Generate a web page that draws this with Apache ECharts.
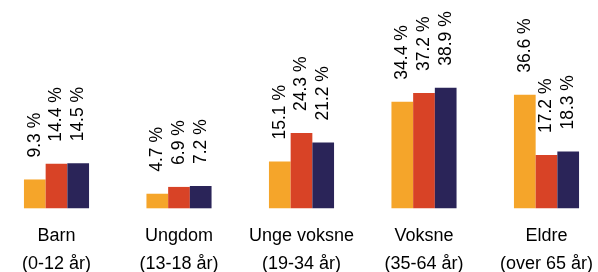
<!DOCTYPE html>
<html>
<head>
<meta charset="utf-8">
<script src="https://cdn.jsdelivr.net/npm/echarts@6/dist/echarts.min.js"></script>
<style>
html,body{margin:0;padding:0;background:#fff;}
#chart{width:598px;height:272px;}
</style>
</head>
<body>
<div id="chart"></div>
<script>
var categories = ['Barn', 'Ungdom', 'Unge voksne', 'Voksne', 'Eldre'];
var subLabels = ['(0-12 år)', '(13-18 år)', '(19-34 år)', '(35-64 år)', '(over 65 år)'];
var series1 = [9.3, 4.7, 15.1, 34.4, 36.6];
var series2 = [14.4, 6.9, 24.3, 37.2, 17.2];
var series3 = [14.5, 7.2, 21.2, 38.9, 18.3];
var colors = ['#F5A52A', '#D84326', '#2A2458'];

var chart = echarts.init(document.getElementById('chart'));
function mk(data, color) {
  return {
    type: 'bar',
    data: data,
    barWidth: 21.7,
    barGap: '0%',
    itemStyle: { color: color },
    label: {
      show: true,
      position: 'top',
      rotate: 90,
      align: 'left',
      verticalAlign: 'middle',
      distance: 22,
      fontFamily: 'Liberation Sans, Arial, sans-serif',
      fontSize: 17.5,
      color: '#000',
      formatter: function (p) { return p.value.toFixed(1) + ' %'; }
    }
  };
}
chart.setOption({
  animation: false,
  grid: { left: -4.75, right: -9.75, top: 22.3, bottom: 63.7, containLabel: false, outerBoundsMode: 'none' },
  xAxis: {
    type: 'category',
    data: categories,
    axisLine: { show: false },
    axisTick: { show: false },
    axisLabel: {
      interval: 0,
      margin: 14,
      fontFamily: 'Liberation Sans, Arial, sans-serif',
      fontSize: 18,
      lineHeight: 28,
      color: '#000',
      formatter: function (v, i) { return v + '\n' + subLabels[i]; }
    }
  },
  yAxis: {
    type: 'value',
    min: 0,
    max: 60,
    show: false,
    splitLine: { show: false }
  },
  series: [mk(series1, colors[0]), mk(series2, colors[1]), mk(series3, colors[2])]
});
</script>
</body>
</html>
